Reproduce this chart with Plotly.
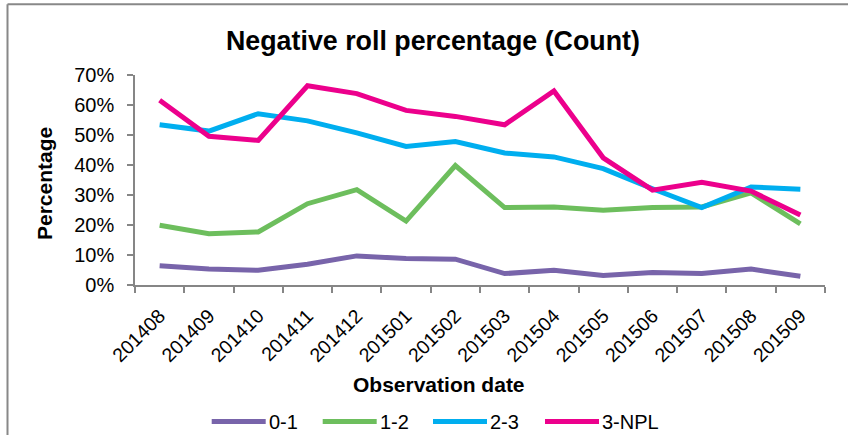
import plotly.graph_objects as go

# Observation months (x categories)
months = ["201408", "201409", "201410", "201411", "201412", "201501", "201502",
          "201503", "201504", "201505", "201506", "201507", "201508", "201509"]

# Negative roll percentage per bucket (%)
roll_0_1 = [6.4, 5.3, 4.9, 6.9, 9.7, 8.8, 8.6, 3.8, 4.9, 3.2, 4.2, 3.8, 5.3, 2.9]
roll_1_2 = [19.9, 17.1, 17.7, 27.1, 31.8, 21.3, 39.8, 25.8, 26.0, 24.9, 25.8, 26.0, 30.7, 20.4]
roll_2_3 = [53.4, 51.3, 57.1, 54.7, 50.7, 46.2, 47.8, 44.0, 42.7, 38.8, 32.1, 25.8, 32.7, 31.9]
roll_3_npl = [61.6, 49.6, 48.2, 66.4, 63.8, 58.2, 56.2, 53.4, 64.7, 42.4, 31.6, 34.2, 31.3, 23.3]

series_names = ["0-1", "1-2", "2-3", "3-NPL"]
series_values = [roll_0_1, roll_1_2, roll_2_3, roll_3_npl]
series_colors = ["#7864AA", "#6DBE5D", "#00AEEF", "#EC008C"]

y_ticks = [0, 10, 20, 30, 40, 50, 60, 70]

W, H = 848, 435
ML, MR, MT, MB = 135, 23, 75, 150
PW, PH = W - ML - MR, H - MT - MB

FONT = "Liberation Sans, Arial, sans-serif"
AXIS_GREY = "#868686"


def px_x(px):
    """Pixel x -> paper x."""
    return (px - ML) / PW


def px_y(py):
    """Pixel y (from top) -> paper y."""
    return (H - MB - py) / PH


fig = go.Figure()
for name, vals, col in zip(series_names, series_values, series_colors):
    fig.add_trace(go.Scatter(
        x=months, y=vals, mode="lines", name=name,
        line=dict(color=col, width=5), showlegend=False,
    ))

annotations = [
    dict(text="<b>Negative roll percentage (Count)</b>", x=px_x(433), y=px_y(41),
         xref="paper", yref="paper", xanchor="center", yanchor="middle",
         showarrow=False, font=dict(size=26.8, color="#000000", family=FONT)),
    dict(text="<b>Percentage</b>", x=px_x(44), y=px_y(184), textangle=-90,
         xref="paper", yref="paper", xanchor="center", yanchor="middle",
         showarrow=False, font=dict(size=21, color="#000000", family=FONT)),
    dict(text="<b>Observation date</b>", x=px_x(439), y=px_y(384),
         xref="paper", yref="paper", xanchor="center", yanchor="middle",
         showarrow=False, font=dict(size=21, color="#000000", family=FONT)),
]

shapes = [
    # chart outline (top and left edges)
    dict(type="line", xref="paper", yref="paper", x0=px_x(7.5), x1=px_x(860),
         y0=px_y(4.2), y1=px_y(4.2), line=dict(color="#888888", width=2)),
    dict(type="line", xref="paper", yref="paper", x0=px_x(7.5), x1=px_x(7.5),
         y0=px_y(4.2), y1=px_y(450), line=dict(color="#888888", width=2)),
]

# legend drawn as line samples with labels
legend_line_x = [211.7, 322.7, 433.0, 545.0]
legend_len = 54
legend_y = 421.5
for name, col, lx in zip(series_names, series_colors, legend_line_x):
    shapes.append(dict(type="line", xref="paper", yref="paper",
                       x0=px_x(lx), x1=px_x(lx + legend_len),
                       y0=px_y(legend_y), y1=px_y(legend_y),
                       line=dict(color=col, width=5)))
    annotations.append(dict(text=name, x=px_x(lx + legend_len + 1), y=px_y(legend_y),
                            xref="paper", yref="paper", xanchor="left", yanchor="middle",
                            showarrow=False,
                            font=dict(size=20, color="#000000", family=FONT)))

fig.update_layout(
    width=W, height=H,
    margin=dict(l=ML, r=MR, t=MT, b=MB, pad=0),
    paper_bgcolor="#FFFFFF", plot_bgcolor="#FFFFFF",
    font=dict(family=FONT, size=20, color="#000000"),
    annotations=annotations,
    shapes=shapes,
    showlegend=False,
)

fig.update_xaxes(
    type="category", categoryorder="array", categoryarray=months,
    range=[-0.5, len(months) - 0.5],
    showline=True, linecolor=AXIS_GREY, linewidth=1.5,
    ticks="outside", tickson="boundaries", ticklen=6, tickcolor=AXIS_GREY, tickwidth=1.5,
    tickangle=-45, ticklabelstandoff=10,
    tickfont=dict(size=19.5, family=FONT, color="#000000"),
    showgrid=False, zeroline=False,
)
fig.update_yaxes(
    range=[0, 70], tickvals=y_ticks, ticktext=[f"{v}%" for v in y_ticks],
    showline=True, linecolor=AXIS_GREY, linewidth=1.5,
    ticks="outside", ticklen=6, tickcolor=AXIS_GREY, tickwidth=1.5,
    ticklabelstandoff=9,
    tickfont=dict(size=20, family=FONT, color="#000000"),
    showgrid=False, zeroline=False,
)

fig.write_html("out.html")
